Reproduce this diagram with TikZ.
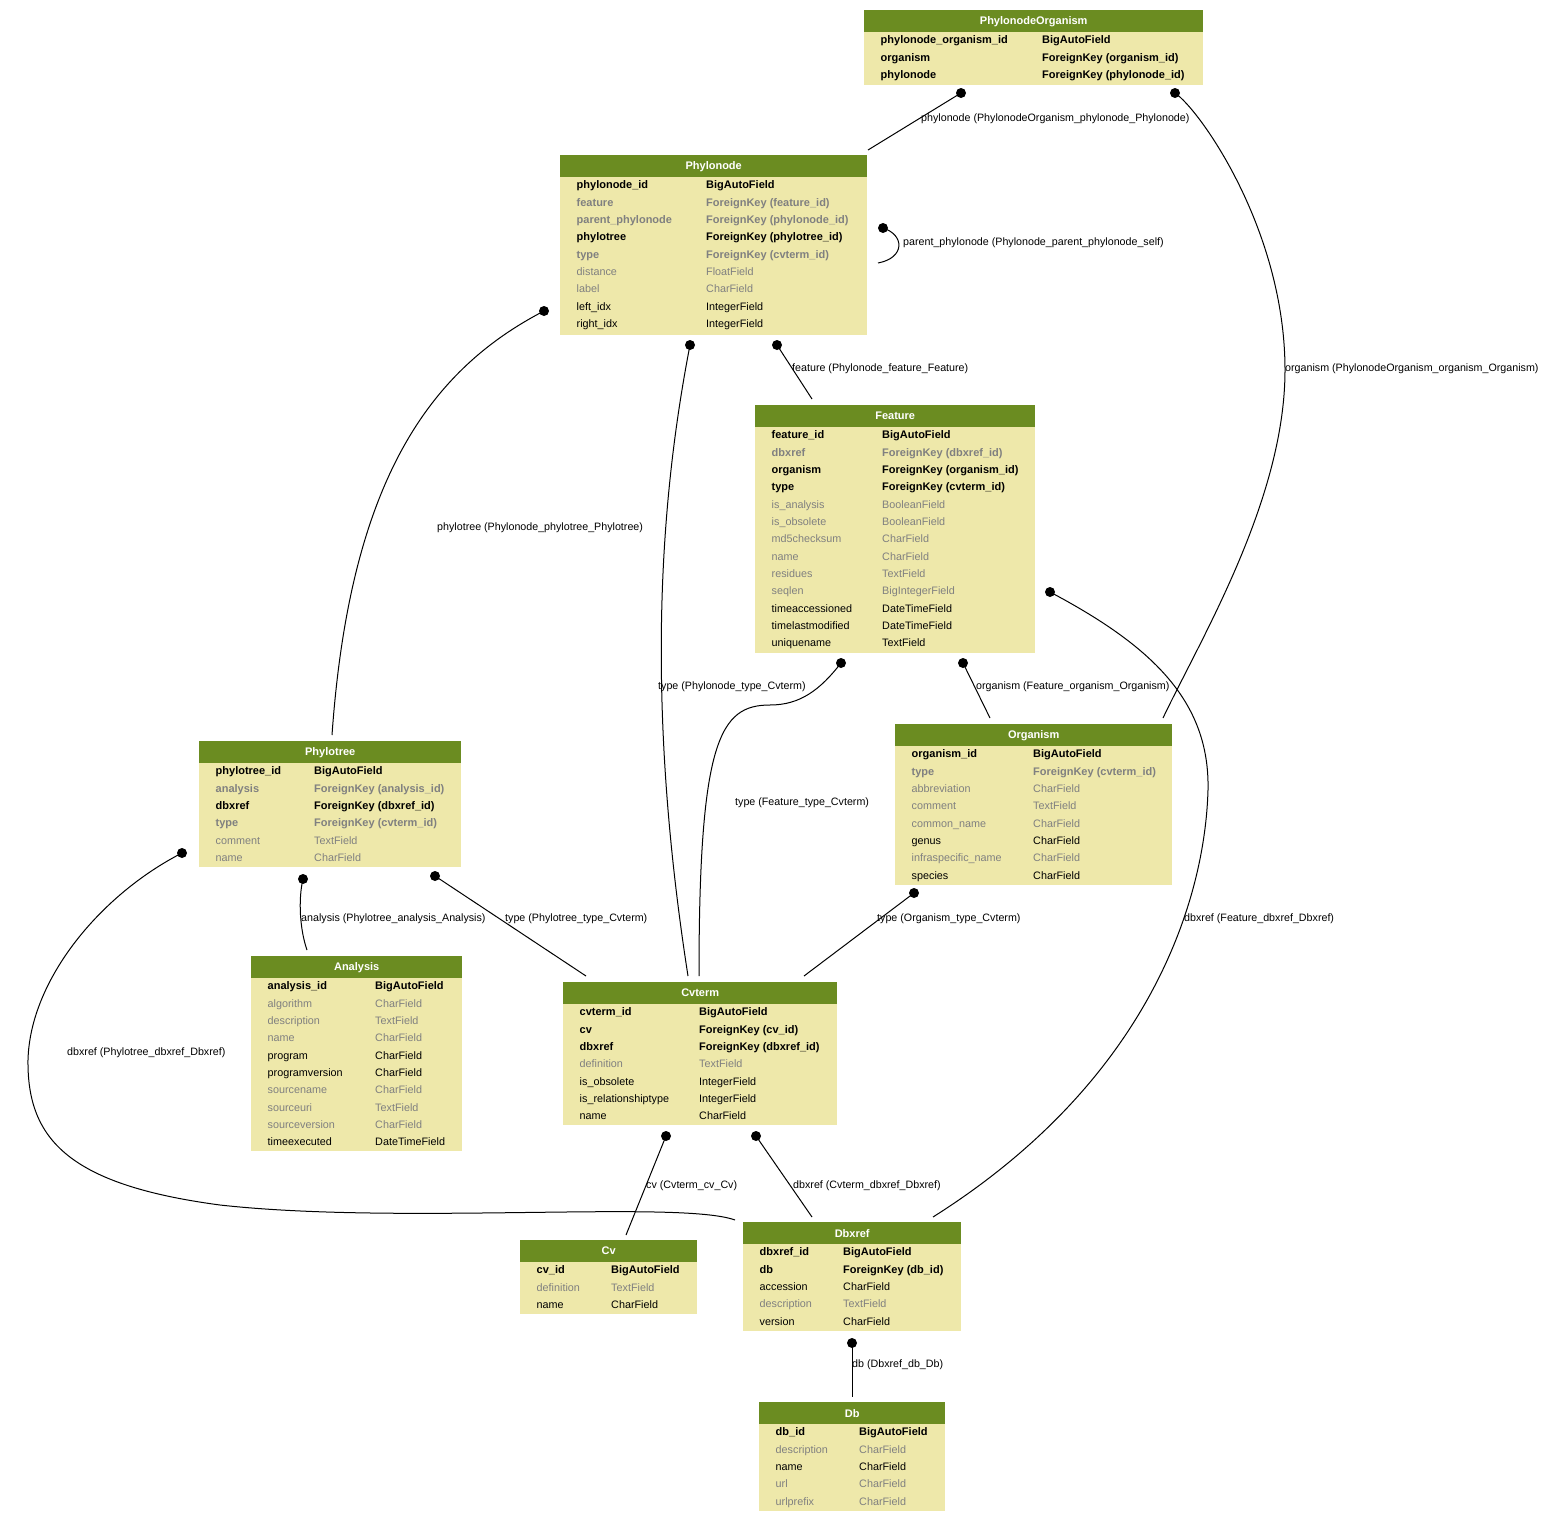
\documentclass[tikz,border=0pt]{standalone}
\usepackage{fontspec}
\setmainfont{Liberation Sans}
\definecolor{hdrgreen}{HTML}{6B8C21}
\definecolor{bodyc}{HTML}{EEE8AA}
\definecolor{grayt}{HTML}{808080}
\tikzset{
  tbody/.style={fill=bodyc, draw=none, inner sep=0pt, anchor=north west},
  thead/.style={fill=hdrgreen, draw=none, inner sep=0pt, anchor=north west, minimum height=22pt, text=white, font=\fontsize{11}{12}\selectfont\bfseries},
  rowpk/.style={anchor=base west, inner sep=0pt, font=\fontsize{11}{12}\selectfont\bfseries, text=black},
  rowfkn/.style={anchor=base west, inner sep=0pt, font=\fontsize{11}{12}\selectfont\bfseries, text=grayt},
  rownull/.style={anchor=base west, inner sep=0pt, font=\fontsize{10.8}{12}\selectfont, text=grayt},
  rowreg/.style={anchor=base west, inner sep=0pt, font=\fontsize{10.8}{12}\selectfont, text=black},
  conn/.style={line width=1pt, draw=black},
  elabel/.style={anchor=west, inner sep=0pt, font=\fontsize{10.7}{12}\selectfont},
  dotc/.style={fill=black}
}
% #1 name, #2 left, #3 top, #4 width, #5 bottom, #6 col2 x, #7 title, #8 rows
\newcommand\dbtable[8]{%
  \node[tbody, minimum width=#4, minimum height={#5-#3}] (#1) at (#2,#3) {};
  \node[thead, minimum width=#4] (#1-head) at (#2,#3) {#7};
  \foreach \s/\a/\b [count=\i] in {#8} {
    \node[\s] (#1-a\i) at ({#2+16.5},{#3+29+(\i-1)*17.33+4.8}) {\a};
    \node[\s] (#1-b\i) at (#6,{#3+29+(\i-1)*17.33+4.8}) {\b};
  }
}
\begin{document}
\begin{tikzpicture}[x=1pt,y=-1pt]
\useasboundingbox (0,0) rectangle (1543,1523);
\fill[white] (0,0) rectangle (1543,1523);

% ---------------- connectors (drawn first) ----------------
\coordinate (d1) at (961,93);   \coordinate (t1) at (868,150);
\coordinate (d2) at (1175,93);  \coordinate (t2) at (1163,718);
\coordinate (d3) at (883,228);  \coordinate (t3) at (878,263);
\coordinate (d4) at (544,311);  \coordinate (t4) at (332,735);
\coordinate (d5) at (690,345);  \coordinate (t5) at (688,976);
\coordinate (d6) at (777,345);  \coordinate (t6) at (812,399);
\coordinate (d7) at (841,663);  \coordinate (t7) at (699,976);
\coordinate (d8) at (963,663);  \coordinate (t8) at (990,718);
\coordinate (d9) at (1050,592); \coordinate (t9) at (933,1217);
\coordinate (d10) at (914,893); \coordinate (t10) at (804,976);
\coordinate (d11) at (182,853); \coordinate (t11) at (735,1220);
\coordinate (d12) at (303,879); \coordinate (t12) at (307,950);
\coordinate (d13) at (435,876); \coordinate (t13) at (586,976);
\coordinate (d14) at (666,1136); \coordinate (t14) at (626,1235);
\coordinate (d15) at (756,1136); \coordinate (t15) at (812,1217);
\coordinate (d16) at (852,1343); \coordinate (t16) at (852,1397);

\draw[conn] (d1) -- (t1);
\draw[conn] (d2) .. controls (1200,110) and (1285,230) .. (1285,370) .. controls (1285,500) and (1200,640) .. (t2);
\draw[conn] (d3) .. controls (905,235) and (905,258) .. (t3);
\draw[conn] (d4) .. controls (430,370) and (350,480) .. (t4);
\draw[conn] (d5) .. controls (660,500) and (645,700) .. (t5);
\draw[conn] (d6) -- (t6);
\draw[conn] (d7) .. controls (820,690) and (800,705) .. (770,705) .. controls (720,705) and (699,740) .. (t7);
\draw[conn] (d8) -- (t8);
\draw[conn] (d9) .. controls (1150,645) and (1210,700) .. (1208,790) .. controls (1205,900) and (1150,1080) .. (t9);
\draw[conn] (d10) -- (t10);
\draw[conn] (d11) .. controls (100,895) and (30,980) .. (28,1060) .. controls (27,1140) and (70,1185) .. (220,1205) .. controls (400,1225) and (680,1200) .. (t11);
\draw[conn] (d12) .. controls (298,900) and (300,930) .. (t12);
\draw[conn] (d13) -- (t13);
\draw[conn] (d14) -- (t14);
\draw[conn] (d15) -- (t15);
\draw[conn] (d16) -- (t16);

\foreach \k in {1,...,16} { \fill[dotc] (d\k) circle[radius=5pt]; }

% ---------------- edge labels ----------------
\node[elabel] (l1) at (921,119) {phylonode (PhylonodeOrganism\_phylonode\_Phylonode)};
\node[elabel] (l2) at (1285,369) {organism (PhylonodeOrganism\_organism\_Organism)};
\node[elabel] (l3) at (903,243) {parent\_phylonode (Phylonode\_parent\_phylonode\_self)};
\node[elabel] (l4) at (437,528) {phylotree (Phylonode\_phylotree\_Phylotree)};
\node[elabel] (l5) at (658,687) {type (Phylonode\_type\_Cvterm)};
\node[elabel] (l6) at (792,369) {feature (Phylonode\_feature\_Feature)};
\node[elabel] (l7) at (735,803) {type (Feature\_type\_Cvterm)};
\node[elabel] (l8) at (976,687) {organism (Feature\_organism\_Organism)};
\node[elabel] (l9) at (1184,919) {dbxref (Feature\_dbxref\_Dbxref)};
\node[elabel] (l10) at (877,919) {type (Organism\_type\_Cvterm)};
\node[elabel] (l11) at (67,1053) {dbxref (Phylotree\_dbxref\_Dbxref)};
\node[elabel] (l12) at (301,919) {analysis (Phylotree\_analysis\_Analysis)};
\node[elabel] (l13) at (505,919) {type (Phylotree\_type\_Cvterm)};
\node[elabel] (l14) at (646,1186) {cv (Cvterm\_cv\_Cv)};
\node[elabel] (l15) at (793,1186) {dbxref (Cvterm\_dbxref\_Dbxref)};
\node[elabel] (l16) at (852,1365) {db (Dbxref\_db\_Db)};

% ---------------- tables ----------------
\dbtable{phylonodeorganism}{864}{10}{339}{85}{1042}{PhylonodeOrganism}{
  rowpk/phylonode\_organism\_id/BigAutoField,
  rowpk/organism/ForeignKey (organism\_id),
  rowpk/phylonode/ForeignKey (phylonode\_id)}

\dbtable{phylonode}{560}{155}{307}{335}{706}{Phylonode}{
  rowpk/phylonode\_id/BigAutoField,
  rowfkn/feature/ForeignKey (feature\_id),
  rowfkn/parent\_phylonode/ForeignKey (phylonode\_id),
  rowpk/phylotree/ForeignKey (phylotree\_id),
  rowfkn/type/ForeignKey (cvterm\_id),
  rownull/distance/FloatField,
  rownull/label/CharField,
  rowreg/left\_idx/IntegerField,
  rowreg/right\_idx/IntegerField}

\dbtable{feature}{755}{405}{280}{653}{882}{Feature}{
  rowpk/feature\_id/BigAutoField,
  rowfkn/dbxref/ForeignKey (dbxref\_id),
  rowpk/organism/ForeignKey (organism\_id),
  rowpk/type/ForeignKey (cvterm\_id),
  rownull/is\_analysis/BooleanField,
  rownull/is\_obsolete/BooleanField,
  rownull/md5checksum/CharField,
  rownull/name/CharField,
  rownull/residues/TextField,
  rownull/seqlen/BigIntegerField,
  rowreg/timeaccessioned/DateTimeField,
  rowreg/timelastmodified/DateTimeField,
  rowreg/uniquename/TextField}

\dbtable{organism}{895}{724}{277}{885}{1033}{Organism}{
  rowpk/organism\_id/BigAutoField,
  rowfkn/type/ForeignKey (cvterm\_id),
  rownull/abbreviation/CharField,
  rownull/comment/TextField,
  rownull/common\_name/CharField,
  rowreg/genus/CharField,
  rownull/infraspecific\_name/CharField,
  rowreg/species/CharField}

\dbtable{phylotree}{199}{741}{262}{867}{314}{Phylotree}{
  rowpk/phylotree\_id/BigAutoField,
  rowfkn/analysis/ForeignKey (analysis\_id),
  rowpk/dbxref/ForeignKey (dbxref\_id),
  rowfkn/type/ForeignKey (cvterm\_id),
  rownull/comment/TextField,
  rownull/name/CharField}

\dbtable{analysis}{251}{956}{211}{1151}{375}{Analysis}{
  rowpk/analysis\_id/BigAutoField,
  rownull/algorithm/CharField,
  rownull/description/TextField,
  rownull/name/CharField,
  rowreg/program/CharField,
  rowreg/programversion/CharField,
  rownull/sourcename/CharField,
  rownull/sourceuri/TextField,
  rownull/sourceversion/CharField,
  rowreg/timeexecuted/DateTimeField}

\dbtable{cvterm}{563}{982}{274}{1125}{699}{Cvterm}{
  rowpk/cvterm\_id/BigAutoField,
  rowpk/cv/ForeignKey (cv\_id),
  rowpk/dbxref/ForeignKey (dbxref\_id),
  rownull/definition/TextField,
  rowreg/is\_obsolete/IntegerField,
  rowreg/is\_relationshiptype/IntegerField,
  rowreg/name/CharField}

\dbtable{cv}{520}{1240}{177}{1314}{611}{Cv}{
  rowpk/cv\_id/BigAutoField,
  rownull/definition/TextField,
  rowreg/name/CharField}

\dbtable{dbxref}{743}{1222}{218}{1331}{843}{Dbxref}{
  rowpk/dbxref\_id/BigAutoField,
  rowpk/db/ForeignKey (db\_id),
  rowreg/accession/CharField,
  rownull/description/TextField,
  rowreg/version/CharField}

\dbtable{db}{759}{1402}{186}{1511}{859}{Db}{
  rowpk/db\_id/BigAutoField,
  rownull/description/CharField,
  rowreg/name/CharField,
  rownull/url/CharField,
  rownull/urlprefix/CharField}
\end{tikzpicture}
\end{document}
